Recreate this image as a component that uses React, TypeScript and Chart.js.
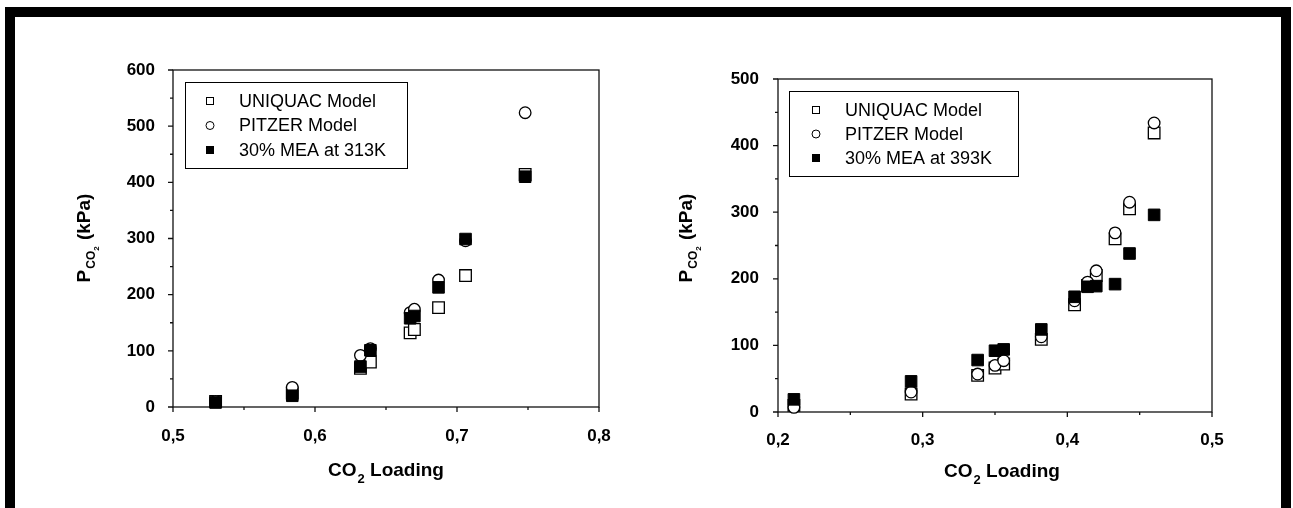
import React, { useEffect, useRef } from 'react';
import { Chart, registerables } from 'chart.js';

Chart.register(...registerables);

// ---------- data ----------
const uniquacLabel = 'UNIQUAC Model';
const pitzerLabel = 'PITZER Model';
const leftMeaLabel = '30% MEA at 313K';
const rightMeaLabel = '30% MEA at 393K';

// Left panel (313 K)
const leftLoading = [0.530, 0.584, 0.632, 0.639, 0.667, 0.670, 0.687, 0.706, 0.748];
const leftUniquac = [10, 25, 69, 80, 132, 138, 177, 234, 414];
const leftPitzer = [10, 35, 92, 104, 168, 174, 226, 296, 524];
const leftMea = [8, 20, 72, 101, 158, 162, 213, 299, 410];
const leftXRange = [0.5, 0.8];
const leftYRange = [0, 600];

// Right panel (393 K)
const rightLoading = [0.211, 0.292, 0.338, 0.350, 0.356, 0.382, 0.405, 0.414, 0.420, 0.433, 0.443, 0.460];
const rightUniquac = [10, 27, 55, 66, 72, 109, 161, 190, 205, 260, 305, 419];
const rightPitzer = [7, 30, 57, 70, 77, 113, 167, 195, 212, 269, 315, 434];
const rightMea = [19, 46, 78, 92, 94, 124, 173, 188, 189, 192, 238, 296];
const rightXRange = [0.2, 0.5];
const rightYRange = [0, 500];

// tick steps (major labelled, minor halfway)
const xMajorStep = 0.1;
const yMajorStep = 100;

// titles
const xTitleParts = ['CO', '2', ' Loading'];
const yTitleParts = ['P', 'CO', '2', ' (kPa)'];

const FONT = "'Liberation Sans', Arial, Helvetica, sans-serif";

function isMultiple(v: number, step: number) {
  const r = v / step;
  return Math.abs(r - Math.round(r)) < 1e-6;
}

const decorPlugin = {
  id: 'decor',
  beforeDatasetsDraw(chart: any) {
    const { ctx, chartArea: a, scales } = chart;
    ctx.save();
    ctx.strokeStyle = '#111';
    ctx.lineWidth = 1.3;
    ctx.strokeRect(a.left, a.top, a.right - a.left, a.bottom - a.top);
    ctx.beginPath();
    const xs = scales.x;
    const ys = scales.y;
    xs.ticks.forEach((t: any) => {
      const p = xs.getPixelForValue(t.value);
      const len = t.label !== '' ? 5 : 3;
      ctx.moveTo(p, a.bottom);
      ctx.lineTo(p, a.bottom + len);
    });
    ys.ticks.forEach((t: any) => {
      const p = ys.getPixelForValue(t.value);
      const len = t.label !== '' ? 5 : 3;
      ctx.moveTo(a.left, p);
      ctx.lineTo(a.left - len, p);
    });
    ctx.stroke();
    ctx.restore();
  },
  afterDatasetsDraw(chart: any, _args: any, opts: any) {
    const { ctx, chartArea: a } = chart;
    const lg = opts.legend;
    const bx = Math.round(a.left + lg.x);
    const by = Math.round(a.top + lg.y);
    ctx.save();
    ctx.fillStyle = '#fff';
    ctx.fillRect(bx, by, lg.w, lg.h);
    ctx.strokeStyle = '#000';
    ctx.lineWidth = 1;
    ctx.strokeRect(bx + 0.5, by + 0.5, lg.w, lg.h);
    chart.data.datasets.forEach((ds: any, i: number) => {
      const cy = by + lg.row0 + i * lg.rowGap;
      const mx = bx + lg.markerX;
      ctx.fillStyle = ds.backgroundColor;
      ctx.strokeStyle = ds.borderColor;
      ctx.lineWidth = 1;
      if (ds.pointStyle === 'circle') {
        ctx.beginPath();
        ctx.arc(mx, cy, 4, 0, Math.PI * 2);
        ctx.fill();
        ctx.stroke();
      } else {
        ctx.fillRect(mx - 3.5, cy - 3.5, 7, 7);
        ctx.strokeRect(mx - 3.5, cy - 3.5, 7, 7);
      }
      ctx.fillStyle = '#000';
      ctx.font = `18px ${FONT}`;
      ctx.textBaseline = 'middle';
      ctx.textAlign = 'left';
      ctx.fillText(ds.label, bx + lg.textX, cy + 1);
    });
    ctx.restore();
  },
  afterDraw(chart: any, _args: any, opts: any) {
    const { ctx, chartArea: a } = chart;
    ctx.save();
    ctx.fillStyle = '#000';
    ctx.textBaseline = 'alphabetic';
    ctx.textAlign = 'left';
    // x title: CO₂ Loading
    const big = `bold 19px ${FONT}`;
    const sub = `bold 13px ${FONT}`;
    ctx.font = big;
    const w1 = ctx.measureText(xTitleParts[0]).width;
    ctx.font = sub;
    const w2 = ctx.measureText(xTitleParts[1]).width;
    ctx.font = big;
    const w3 = ctx.measureText(xTitleParts[2]).width;
    const total = w1 + w2 + 1 + w3;
    const cx = (a.left + a.right) / 2 + opts.xTitleDx;
    const base = a.bottom + opts.xTitleDy;
    let x0 = cx - total / 2;
    ctx.font = big;
    ctx.fillText(xTitleParts[0], x0, base);
    x0 += w1 + 1;
    ctx.font = sub;
    ctx.fillText(xTitleParts[1], x0, base + 7);
    x0 += w2;
    ctx.font = big;
    ctx.fillText(xTitleParts[2], x0, base);

    // y title: P_CO2 (kPa), rotated
    const subY = `bold 12px ${FONT}`;
    const subsub = `bold 8px ${FONT}`;
    ctx.font = big;
    const p1 = ctx.measureText(yTitleParts[0]).width;
    ctx.font = subY;
    const p2 = ctx.measureText(yTitleParts[1]).width;
    ctx.font = subsub;
    const p3 = ctx.measureText(yTitleParts[2]).width;
    ctx.font = big;
    const p4 = ctx.measureText(yTitleParts[3]).width;
    const tot = p1 + p2 + p3 + p4 + 2;
    ctx.translate(a.left + opts.yTitleDx, opts.yTitleCenter);
    ctx.rotate(-Math.PI / 2);
    let t = -tot / 2;
    ctx.font = big;
    ctx.fillText(yTitleParts[0], t, 0);
    t += p1 + 1;
    ctx.font = subY;
    ctx.fillText(yTitleParts[1], t, 5);
    t += p2;
    ctx.font = subsub;
    ctx.fillText(yTitleParts[2], t, 9);
    t += p3 + 1;
    ctx.font = big;
    ctx.fillText(yTitleParts[3], t, 0);
    ctx.restore();
  },
};

type PanelProps = {
  loading: number[];
  uniquac: number[];
  pitzer: number[];
  mea: number[];
  meaLabel: string;
  xRange: number[];
  yRange: number[];
  width: number;
  padding: { left: number; right: number; top: number; bottom: number };
  yLabelPad: number;
  xLabelPad: number;
  decor: any;
};

function Panel(props: PanelProps) {
  const ref = useRef<HTMLCanvasElement | null>(null);
  useEffect(() => {
    if (!ref.current) return;
    const pts = (ys: number[]) => props.loading.map((x, i) => ({ x, y: ys[i] }));
    const chart = new Chart(ref.current, {
      type: 'scatter',
      data: {
        datasets: [
          {
            label: uniquacLabel,
            data: pts(props.uniquac),
            pointStyle: 'rect',
            pointRadius: 8.2,
            backgroundColor: '#fff',
            borderColor: '#000',
            borderWidth: 1.3,
            clip: false,
            order: 3,
          } as any,
          {
            label: pitzerLabel,
            data: pts(props.pitzer),
            pointStyle: 'circle',
            pointRadius: 5.8,
            backgroundColor: '#fff',
            borderColor: '#000',
            borderWidth: 1.3,
            clip: false,
            order: 2,
          } as any,
          {
            label: props.meaLabel,
            data: pts(props.mea),
            pointStyle: 'rect',
            pointRadius: 8.2,
            backgroundColor: '#000',
            borderColor: '#000',
            borderWidth: 1,
            clip: false,
            order: 1,
          } as any,
        ],
      },
      options: {
        animation: false,
        responsive: false,
        maintainAspectRatio: false,
        devicePixelRatio: 1,
        layout: { padding: props.padding },
        plugins: {
          legend: { display: false },
          tooltip: { enabled: false },
          decor: props.decor,
        } as any,
        scales: {
          x: {
            type: 'linear',
            min: props.xRange[0],
            max: props.xRange[1],
            grid: { display: false },
            border: { display: false },
            ticks: {
              stepSize: xMajorStep / 2,
              autoSkip: false,
              maxRotation: 0,
              padding: props.xLabelPad,
              color: '#000',
              font: { family: FONT, size: 17, weight: 'bold' },
              callback: (v: any) =>
                isMultiple(Number(v), xMajorStep) ? Number(v).toFixed(1).replace('.', ',') : '',
            },
            afterFit: (s: any) => {
              s.height = 50;
            },
          },
          y: {
            type: 'linear',
            min: props.yRange[0],
            max: props.yRange[1],
            grid: { display: false },
            border: { display: false },
            ticks: {
              stepSize: yMajorStep / 2,
              autoSkip: false,
              padding: props.yLabelPad,
              color: '#000',
              font: { family: FONT, size: 17, weight: 'bold' },
              callback: (v: any) => (isMultiple(Number(v), yMajorStep) ? String(Math.round(Number(v))) : ''),
            },
            afterFit: (s: any) => {
              s.width = 60;
            },
          },
        },
      } as any,
      plugins: [decorPlugin as any],
    });
    return () => chart.destroy();
  }, []);
  return <canvas ref={ref} width={props.width} height={508} style={{ width: props.width, height: 508, display: 'block' }} />;
}

export default function App() {
  return (
    <div
      style={{
        position: 'absolute',
        left: 0,
        top: 0,
        width: 1293,
        height: 508,
        background: '#fff',
        overflow: 'hidden',
      }}
    >
      <div style={{ position: 'absolute', left: 0, top: 0 }}>
        <Panel
          loading={leftLoading}
          uniquac={leftUniquac}
          pitzer={leftPitzer}
          mea={leftMea}
          meaLabel={leftMeaLabel}
          xRange={leftXRange}
          yRange={leftYRange}
          width={646}
          padding={{ left: 113, right: 47, top: 70, bottom: 51 }}
          yLabelPad={10}
          xLabelPad={11}
          decor={{
            legend: { x: 12, y: 12, w: 222, h: 86, markerX: 25, textX: 54, row0: 19, rowGap: 24.5 },
            xTitleDx: 0,
            xTitleDy: 69,
            yTitleDx: -83,
            yTitleCenter: 238,
          }}
        />
      </div>
      <div style={{ position: 'absolute', left: 646, top: 0 }}>
        <Panel
          loading={rightLoading}
          uniquac={rightUniquac}
          pitzer={rightPitzer}
          mea={rightMea}
          meaLabel={rightMeaLabel}
          xRange={rightXRange}
          yRange={rightYRange}
          width={647}
          padding={{ left: 72, right: 81, top: 79, bottom: 46 }}
          yLabelPad={11}
          xLabelPad={10}
          decor={{
            legend: { x: 11, y: 12, w: 229, h: 85, markerX: 27, textX: 56, row0: 19, rowGap: 24 },
            xTitleDx: 7,
            xTitleDy: 65,
            yTitleDx: -86,
            yTitleCenter: 238,
          }}
        />
      </div>
      <div
        style={{
          position: 'absolute',
          left: 5,
          top: 7,
          width: 1286,
          height: 520,
          boxSizing: 'border-box',
          borderTop: '10px solid #000',
          borderLeft: '10px solid #000',
          borderRight: '10px solid #000',
          pointerEvents: 'none',
        }}
      />
    </div>
  );
}
